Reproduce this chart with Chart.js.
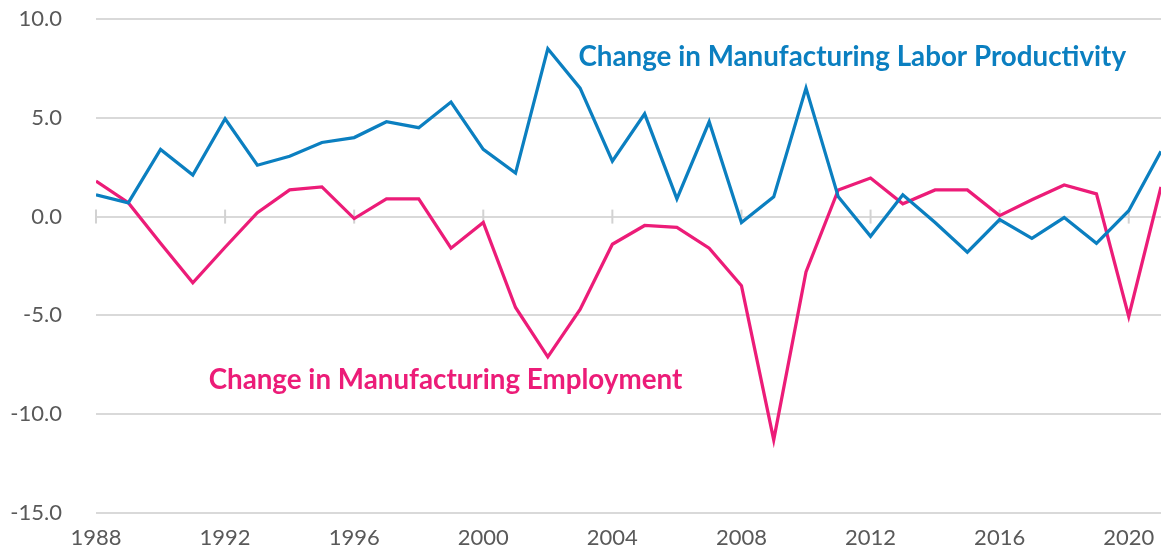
<!DOCTYPE html>
<html>
<head>
<meta charset="utf-8">
<script src="https://cdn.jsdelivr.net/npm/chart.js@4/dist/chart.umd.min.js"></script>
<style>
  html, body { margin: 0; padding: 0; background: #ffffff; }
  #wrap { width: 1161px; height: 552px; position: relative; }
</style>
</head>
<body>
<div id="wrap"><canvas id="c"></canvas></div>
<script>
const years = [1988,1989,1990,1991,1992,1993,1994,1995,1996,1997,1998,1999,2000,2001,2002,2003,2004,2005,2006,2007,2008,2009,2010,2011,2012,2013,2014,2015,2016,2017,2018,2019,2020,2021];
const productivity = [1.1,0.7,3.4,2.1,4.95,2.6,3.05,3.75,4.0,4.8,4.5,5.8,3.4,2.2,8.5,6.5,2.8,5.2,0.9,4.8,-0.3,1.0,6.5,1.0,-1.0,1.1,-0.3,-1.8,-0.15,-1.1,-0.05,-1.35,0.3,3.3];
const employment = [1.8,0.7,-1.35,-3.35,-1.55,0.2,1.35,1.5,-0.1,0.9,0.9,-1.6,-0.3,-4.6,-7.1,-4.7,-1.4,-0.45,-0.55,-1.6,-3.5,-11.3,-2.8,1.35,1.95,0.65,1.35,1.35,0.05,0.85,1.6,1.15,-5.05,1.5];
const xTickYears = [1988,1992,1996,2000,2004,2008,2012,2016,2020];
const yTicks = [-15,-10,-5,0,5,10];
const labelProd = 'Change in Manufacturing Labor Productivity';
const labelEmp = 'Change in Manufacturing Employment';

const blue = '#0b7fc0';
const pink = '#ec1c78';
const grey = '#595959';
const gridGrey = '#d9d9d9';

const annotations = {
  id: 'annotations',
  beforeDatasetsDraw(chart) {
    const {ctx} = chart;
    const xs = chart.scales.x, ys = chart.scales.y;
    const y0 = ys.getPixelForValue(0);
    ctx.save();
    ctx.strokeStyle = '#d2d2d2';
    ctx.lineWidth = 2;
    xTickYears.forEach(yr => {
      const px = xs.getPixelForValue(yr);
      ctx.beginPath();
      ctx.moveTo(px, y0 - 7);
      ctx.lineTo(px, y0 + 7);
      ctx.stroke();
    });
    ctx.restore();
  },
  afterDraw(chart) {
    const {ctx} = chart;
    const xs = chart.scales.x, ys = chart.scales.y;
    ctx.save();
    ctx.font = 'bold 27.75px Lato';
    ctx.textAlign = 'left';
    ctx.textBaseline = 'middle';
    ctx.fillStyle = blue;
    ctx.fillText(labelProd, xs.getPixelForValue(2002.95), ys.getPixelForValue(8.08));
    ctx.fillStyle = pink;
    ctx.fillText(labelEmp, xs.getPixelForValue(1991.49), ys.getPixelForValue(-8.28));
    ctx.restore();
  }
};

new Chart(document.getElementById('c'), {
  type: 'line',
  data: {
    datasets: [
      { label: labelProd, data: years.map((y, i) => ({x: y, y: productivity[i]})), borderColor: blue, borderWidth: 3.25, pointRadius: 0, tension: 0, fill: false },
      { label: labelEmp, data: years.map((y, i) => ({x: y, y: employment[i]})), borderColor: pink, borderWidth: 3.25, pointRadius: 0, tension: 0, fill: false }
    ]
  },
  options: {
    responsive: true,
    maintainAspectRatio: false,
    animation: false,
    layout: { padding: { top: 19, right: 0, bottom: 0, left: 0 } },
    plugins: { legend: { display: false }, tooltip: { enabled: false } },
    scales: {
      x: {
        type: 'linear',
        min: 1988,
        max: 2021,
        afterBuildTicks: s => { s.ticks = xTickYears.map(v => ({value: v})); },
        afterFit: s => { s.height = 39; s.paddingLeft = 0; s.paddingRight = 0; },
        ticks: { callback: v => String(v), color: grey, font: { family: 'Lato', size: 22 }, padding: 12, maxRotation: 0, autoSkip: false },
        grid: { display: false, drawTicks: false },
        border: { display: false }
      },
      y: {
        min: -15,
        max: 10,
        afterBuildTicks: s => { s.ticks = yTicks.map(v => ({value: v})); },
        afterFit: s => { s.width = 96; s.paddingTop = 0; s.paddingBottom = 0; },
        ticks: { callback: v => Number(v).toFixed(1), color: grey, font: { family: 'Lato', size: 22 }, padding: 34 },
        grid: { color: gridGrey, lineWidth: 2, drawTicks: false },
        border: { display: false }
      }
    }
  },
  plugins: [annotations]
});
</script>
</body>
</html>
